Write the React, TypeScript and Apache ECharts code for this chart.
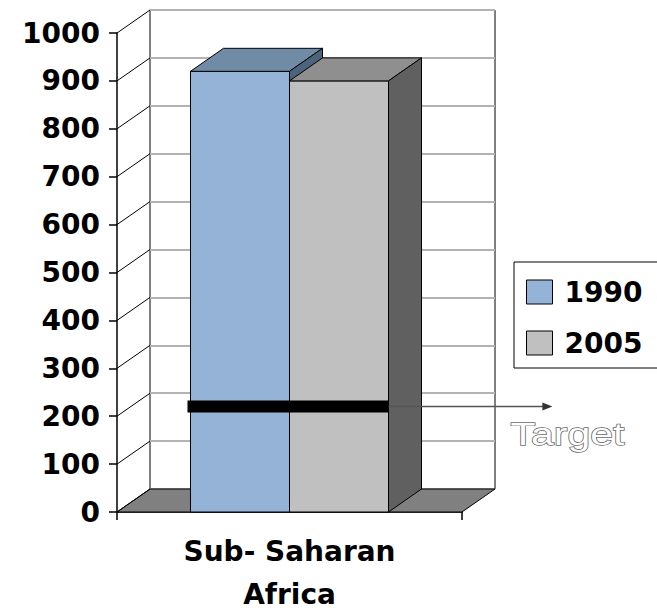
import React, { useEffect, useRef } from "react";
import * as echarts from "echarts";

const categories = ["Sub- Saharan Africa"];
const seriesNames = ["1990", "2005"];
const values1990 = [920];
const values2005 = [900];
const targetValues = [220];
const targetLabel = "Target";
const yTicks = [0, 100, 200, 300, 400, 500, 600, 700, 800, 900, 1000];

const DX = 33;
const DY = -23;
const BAR_FRAC = 0.287;
const FONT = "'DejaVu Sans', sans-serif";

export default function App() {
  const ref = useRef<HTMLDivElement>(null);
  useEffect(() => {
    const chart = echarts.init(ref.current!, null, { renderer: "svg" });

    const makeBar = (side: number, front: string, top: string, sideC: string) => (params: any, api: any) => {
      const c = api.coord([api.value(0), api.value(1)]);
      const base = api.coord([api.value(0), 0]);
      const band = api.size([1, 0])[0];
      const bw = band * BAR_FRAC;
      const x0 = side < 0 ? c[0] - bw : c[0];
      const x1 = x0 + bw;
      const yt = c[1];
      const yb = base[1];
      return {
        type: "group",
        children: [
          { type: "rect", shape: { x: x0, y: yt, width: bw, height: yb - yt }, style: { fill: front, stroke: "#000", lineWidth: 1 } },
          { type: "polygon", shape: { points: [[x0, yt], [x1, yt], [x1 + DX, yt + DY], [x0 + DX, yt + DY]] }, style: { fill: top, stroke: "#000", lineWidth: 1 } },
          { type: "polygon", shape: { points: [[x1, yt], [x1 + DX, yt + DY], [x1 + DX, yb + DY], [x1, yb]] }, style: { fill: sideC, stroke: "#000", lineWidth: 1 } },
        ],
      };
    };

    const wallsRender = (params: any, api: any) => {
      const v = api.value(1);
      const p = api.coord([api.value(0), v]);
      const band = api.size([1, 0])[0];
      const xl = p[0] - band / 2;
      const xr = p[0] + band / 2;
      const children: any[] = [];
      if (v === 0) {
        children.push({
          type: "polygon",
          shape: { points: [[xl, p[1]], [xr, p[1]], [xr + DX, p[1] + DY], [xl + DX, p[1] + DY]] },
          style: { fill: "#808080", stroke: "#000", lineWidth: 1 },
        });
      }
      children.push({ type: "line", shape: { x1: xl, y1: p[1], x2: xl + DX, y2: p[1] + DY }, style: { stroke: "#000", lineWidth: 1 } });
      return { type: "group", children };
    };

    const targetRender = (params: any, api: any) => {
      const p = api.coord([api.value(0), api.value(1)]);
      const band = api.size([1, 0])[0];
      const bw = band * BAR_FRAC;
      const xs = p[0] - bw - 3;
      const xe = p[0] + bw;
      const tip = xe + band * 0.475;
      return {
        type: "group",
        children: [
          { type: "rect", shape: { x: xs, y: p[1] - 6, width: xe - xs, height: 12 }, style: { fill: "#000" } },
          { type: "line", shape: { x1: xe, y1: p[1], x2: tip - 6, y2: p[1] }, style: { stroke: "#555", lineWidth: 1.5 } },
          { type: "polygon", shape: { points: [[tip, p[1]], [tip - 10, p[1] - 4], [tip - 10, p[1] + 4]] }, style: { fill: "#333" } },
          {
            type: "text",
            x: xe + 122,
            y: p[1] + 27,
            scaleX: 1.28,
            style: {
              text: targetLabel,
              fill: "#fff",
              stroke: "#6a6a6a",
              lineWidth: 1.4,
              font: "32px 'Liberation Sans', Arial, sans-serif",
              verticalAlign: "middle",
              align: "left",
            },
          },
        ],
      };
    };

    const labelStyle = { color: "#000", fontFamily: FONT, fontWeight: "bold", fontSize: 28 };

    const option: any = {
      animation: false,
      backgroundColor: "#fff",
      grid: [
        { left: 117, top: 33, width: 345, height: 479, outerBoundsMode: "none", containLabel: false },
        { left: 117 + DX, top: 33 + DY, width: 345, height: 479, outerBoundsMode: "none", containLabel: false, show: true, borderColor: "#000", borderWidth: 1, backgroundColor: "#fff" },
      ],
      xAxis: [
        {
          type: "category",
          gridIndex: 0,
          data: categories,
          boundaryGap: true,
          axisLine: { show: true, lineStyle: { color: "#000", width: 1.5 } },
          axisTick: { show: true, length: 8, lineStyle: { color: "#000", width: 1.5 } },
          axisLabel: {
            margin: 8,
            ...labelStyle,
            formatter: (s: string) => {
              const parts = s.split(" Africa");
              return "{a|" + parts[0] + "}\n{b|Africa}";
            },
            rich: {
              a: { ...labelStyle, lineHeight: 62 },
              b: { ...labelStyle, lineHeight: 24 },
            },
          },
        },
        { type: "category", gridIndex: 1, data: categories, show: false },
      ],
      yAxis: [
        {
          type: "value",
          gridIndex: 0,
          min: 0,
          max: 1000,
          interval: 100,
          axisLine: { show: true, lineStyle: { color: "#000", width: 1.5 } },
          axisTick: { show: true, length: 8, lineStyle: { color: "#000", width: 1.5 } },
          axisLabel: { margin: 17, ...labelStyle, formatter: (v: number) => String(v) },
          splitLine: { show: false },
        },
        {
          type: "value",
          gridIndex: 1,
          min: 0,
          max: 1000,
          interval: 100,
          axisLine: { show: false },
          axisTick: { show: false },
          axisLabel: { show: false },
          splitLine: { show: true, lineStyle: { color: "#b3b3b3", width: 2 } },
        },
      ],
      legend: {
        left: 514,
        top: 262,
        orient: "vertical",
        borderColor: "#000",
        borderWidth: 1,
        padding: [16, 40, 11, 12],
        itemWidth: 26,
        itemHeight: 24,
        itemGap: 23,
        icon: "rect",
        textStyle: { ...labelStyle, padding: [0, 0, 0, 7] },
        data: [
          { name: seriesNames[0], icon: "rect", itemStyle: { color: "#95b3d7", borderColor: "#000", borderWidth: 1 } },
          { name: seriesNames[1], icon: "rect", itemStyle: { color: "#c0c0c0", borderColor: "#000", borderWidth: 1 } },
        ],
      },
      series: [
        {
          type: "custom",
          name: "walls",
          xAxisIndex: 0,
          yAxisIndex: 0,
          silent: true,
          z: 2,
          renderItem: wallsRender,
          data: yTicks.map((v) => [0, v]),
        },
        {
          type: "custom",
          name: seriesNames[0],
          xAxisIndex: 0,
          yAxisIndex: 0,
          silent: true,
          z: 3,
          itemStyle: { color: "#95b3d7" },
          renderItem: makeBar(-1, "#95b3d7", "#6f8ba5", "#4d657c"),
          data: values1990.map((v, i) => [i, v]),
        },
        {
          type: "custom",
          name: seriesNames[1],
          xAxisIndex: 0,
          yAxisIndex: 0,
          silent: true,
          z: 4,
          itemStyle: { color: "#c0c0c0" },
          renderItem: makeBar(1, "#c0c0c0", "#8f8f8f", "#606060"),
          data: values2005.map((v, i) => [i, v]),
        },
        {
          type: "custom",
          name: "target",
          xAxisIndex: 0,
          yAxisIndex: 0,
          silent: true,
          z: 5,
          renderItem: targetRender,
          data: targetValues.map((v, i) => [i, v]),
        },
      ],
    };
    chart.setOption(option);
    return () => chart.dispose();
  }, []);
  return <div ref={ref} style={{ position: "fixed", left: 0, top: 0, width: 657, height: 611 }} />;
}
